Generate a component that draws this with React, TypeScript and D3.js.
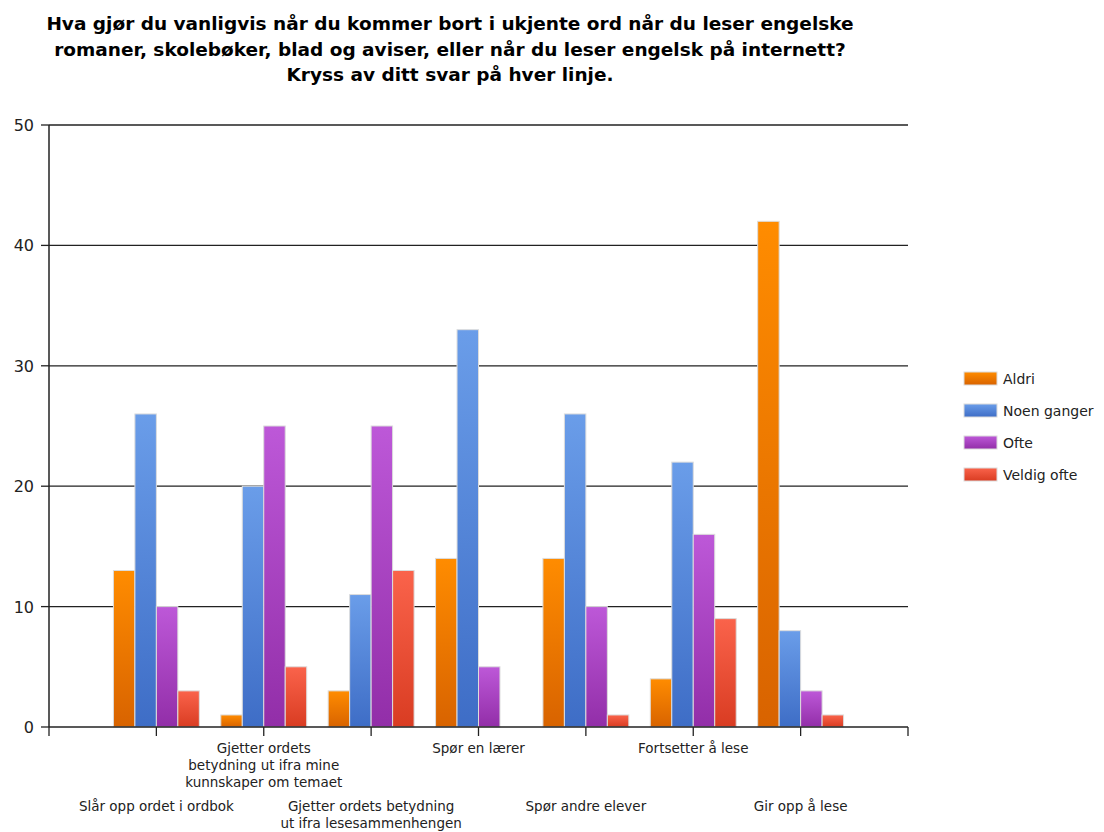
import React from "react";
import * as d3 from "d3";

const categories = [
  ["Slår opp ordet i ordbok"],
  ["Gjetter ordets", "betydning ut ifra mine", "kunnskaper om temaet"],
  ["Gjetter ordets betydning", "ut ifra lesesammenhengen"],
  ["Spør en lærer"],
  ["Spør andre elever"],
  ["Fortsetter å lese"],
  ["Gir opp å lese"],
];
const seriesNames = ["Aldri", "Noen ganger", "Ofte", "Veldig ofte"];
const aldri = [13, 1, 3, 14, 14, 4, 42];
const noenGanger = [26, 20, 11, 33, 26, 22, 8];
const ofte = [10, 25, 25, 5, 10, 16, 3];
const veldigOfte = [3, 5, 13, 0, 1, 9, 1];
const yTicks = [0, 10, 20, 30, 40, 50];
const titleLines = [
  "Hva gjør du vanligvis når du kommer bort i ukjente ord når du leser engelske",
  "romaner, skolebøker, blad og aviser, eller når du leser engelsk på internett?",
  "Kryss av ditt svar på hver linje.",
];

const seriesValues = [aldri, noenGanger, ofte, veldigOfte];
const gradients = [
  ["#ff8c00", "#d86300"],
  ["#6a9de9", "#3e6dc6"],
  ["#bd58d8", "#922ea8"],
  ["#fa634b", "#d93c22"],
];

export default function App() {
  const left = 49, right = 908, top = 125, bottom = 727;
  const x = d3.scaleLinear().domain([0, categories.length + 1]).range([left, right]);
  const y = d3.scaleLinear().domain([0, 50]).range([bottom, top]);
  const step = x(1) - x(0);
  const groupW = step * 0.8;
  const bx = d3.scaleBand().domain(seriesNames).range([-groupW / 2, groupW / 2]).paddingInner(0);
  const titleFont = "'DejaVu Sans', Verdana, sans-serif";
  const labelFont = "'DejaVu Sans', 'Liberation Sans', sans-serif";

  return (
    <svg width={1104} height={832} style={{ position: "absolute", left: 0, top: 0, background: "#fff" }}>
      <defs>
        {gradients.map((g, i) => (
          <linearGradient key={i} id={`g${i}`} x1="0" y1="0" x2="0" y2="1">
            <stop offset="0%" stopColor={g[0]} />
            <stop offset="100%" stopColor={g[1]} />
          </linearGradient>
        ))}
      </defs>
      <rect width={1104} height={832} fill="#fff" />
      {titleLines.map((t, i) => (
        <text key={i} x={450} y={30 + i * 25.5} textAnchor="middle" fontFamily={titleFont} fontWeight="bold" fontSize={18.5} fill="#000">
          {t}
        </text>
      ))}
      {/* grid */}
      {yTicks.map((t) => (
        <g key={t}>
          {t > 0 && <line x1={left} x2={right} y1={y(t)} y2={y(t)} stroke="#222" strokeWidth={1.3} />}
          <line x1={left - 8} x2={left} y1={y(t)} y2={y(t)} stroke="#222" strokeWidth={1.3} />
          <text x={34} y={y(t) + 6} textAnchor="end" fontFamily={labelFont} fontSize={16} fill="#222">
            {t}
          </text>
        </g>
      ))}
      {/* bars */}
      {categories.map((c, ci) => (
        <g key={ci}>
          {seriesNames.map((s, si) => {
            const v = seriesValues[si][ci];
            if (v <= 0) return null;
            const bx0 = x(ci + 1) + (bx(s) as number);
            return (
              <rect
                key={s}
                x={bx0}
                y={y(v)}
                width={bx.bandwidth()}
                height={y(0) - y(v)}
                fill={`url(#g${si})`}
                stroke="#dcdcdc"
                strokeWidth={1}
              />
            );
          })}
        </g>
      ))}
      {/* axes */}
      <line x1={left} x2={left} y1={top} y2={bottom} stroke="#222" strokeWidth={1.5} />
      <line x1={left} x2={right} y1={bottom} y2={bottom} stroke="#222" strokeWidth={1.5} />
      {d3.range(0, categories.length + 2).map((i) => (
        <line key={i} x1={x(i)} x2={x(i)} y1={bottom} y2={bottom + 9} stroke="#222" strokeWidth={1.3} />
      ))}
      {categories.map((lines, ci) => {
        const row = ci % 2 === 0 ? 1 : 0;
        const y0 = row === 0 ? 753 : 811;
        return (
          <text key={ci} textAnchor="middle" fontFamily={labelFont} fontSize={13.5} fill="#222">
            {lines.map((l, li) => (
              <tspan key={li} x={x(ci + 1)} y={y0 + li * 17}>
                {l}
              </tspan>
            ))}
          </text>
        );
      })}
      {/* legend */}
      {seriesNames.map((s, i) => (
        <g key={s} transform={`translate(964, ${372 + i * 32})`}>
          <rect x={0} y={0} width={33} height={13} fill={`url(#g${i})`} stroke="#dcdcdc" strokeWidth={1} />
          <text x={39} y={12} fontFamily={labelFont} fontSize={14} fill="#222">
            {s}
          </text>
        </g>
      ))}
    </svg>
  );
}
